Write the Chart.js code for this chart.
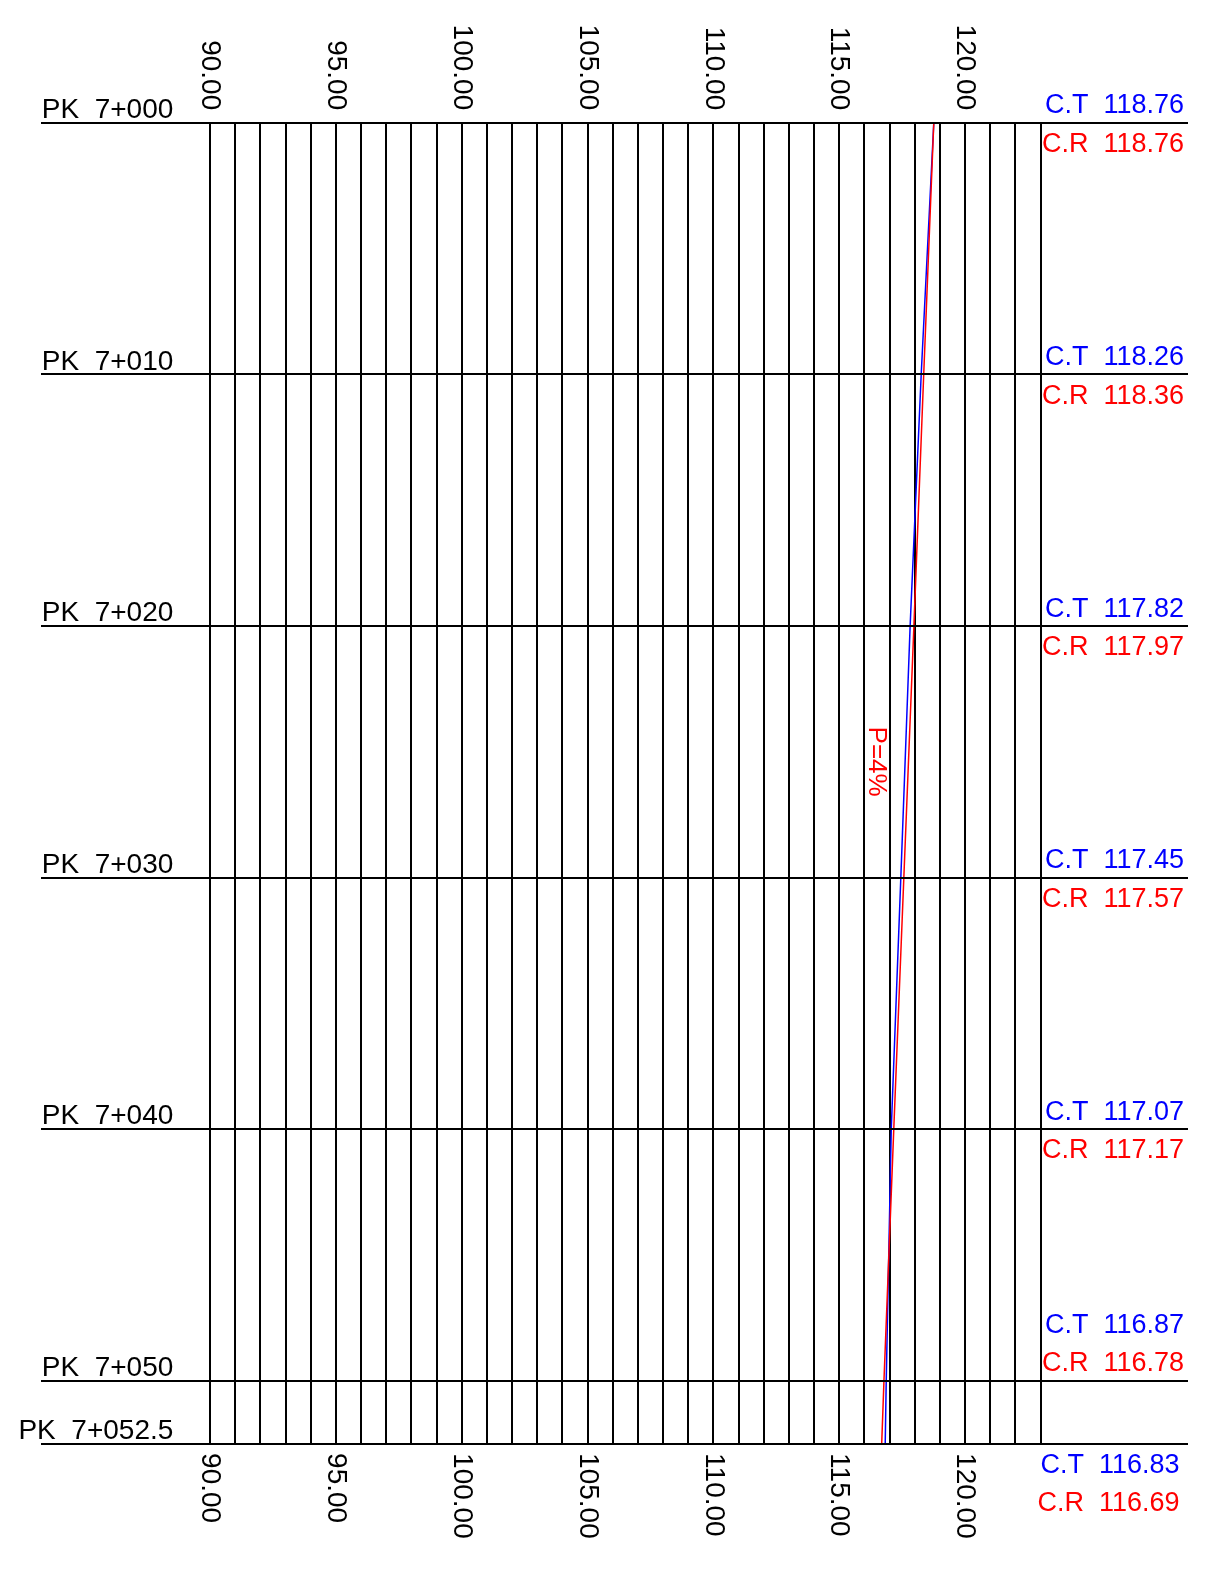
<!DOCTYPE html>
<html><head><meta charset="utf-8">
<script src="https://cdn.jsdelivr.net/npm/chart.js@4/dist/chart.umd.min.js"></script>
<style>html,body{margin:0;padding:0;background:#fff;overflow:hidden}canvas{display:block}</style>
</head><body>
<canvas id="c" width="1209" height="1576"></canvas>
<script>
// ---- data ----
const stations = [0, 10, 20, 30, 40, 50, 52.5];
const stationLabels = ['PK  7+000', 'PK  7+010', 'PK  7+020', 'PK  7+030', 'PK  7+040', 'PK  7+050', 'PK  7+052.5'];
const terrainCT = [118.76, 118.26, 117.82, 117.45, 117.07, 116.87, 116.83];
const projectCR = [118.76, 118.36, 117.97, 117.57, 117.17, 116.78, 116.69];
const elevationTicks = [90, 95, 100, 105, 110, 115, 120];
const elevationTickLabels = ['90.00', '95.00', '100.00', '105.00', '110.00', '115.00', '120.00'];
const elevMin = 90, elevMax = 123, stationMax = 52.5;
const slopeText = 'P=4%';
const slopeAnchor = {x: 116.2, y: 24};

const BLUE = '#0000ff', RED = '#ff0000', INK = '#000000';
const FONT = '"Liberation Sans", Arial, sans-serif';

const profilePlugin = {
  id: 'profile',
  afterDraw(chart) {
    const ctx = chart.ctx, xs = chart.scales.x, ys = chart.scales.y, a = chart.chartArea;
    ctx.save();
    // horizontal station lines extended beyond plot
    ctx.strokeStyle = INK; ctx.lineWidth = 2;
    stations.forEach(s => {
      const y = Math.round(ys.getPixelForValue(s));
      ctx.beginPath(); ctx.moveTo(a.left - 169, y); ctx.lineTo(a.right + 147.5, y); ctx.stroke();
    });
    // station labels
    ctx.fillStyle = INK; ctx.font = '28px ' + FONT; ctx.textAlign = 'right'; ctx.textBaseline = 'alphabetic';
    stations.forEach((s, i) => {
      const y = ys.getPixelForValue(s);
      ctx.fillText(stationLabels[i], a.left - 36.7, y - 4.8);
    });
    // elevation tick labels top and bottom (rotated)
    ctx.font = '28px ' + FONT; ctx.textBaseline = 'middle';
    elevationTicks.forEach((v, i) => {
      const x = xs.getPixelForValue(v);
      ctx.save(); ctx.translate(x, a.top - 12.5); ctx.rotate(Math.PI / 2);
      ctx.textAlign = 'right'; ctx.fillText(elevationTickLabels[i], 0, 0); ctx.restore();
      ctx.save(); ctx.translate(x, a.bottom + 9.5); ctx.rotate(Math.PI / 2);
      ctx.textAlign = 'left'; ctx.fillText(elevationTickLabels[i], 0, 0); ctx.restore();
    });
    // C.T / C.R values at right
    ctx.font = '27px ' + FONT; ctx.textAlign = 'right'; ctx.textBaseline = 'alphabetic';
    stations.forEach((s, i) => {
      const y = ys.getPixelForValue(s);
      let ctY = y - 9.4, crY = y + 29.2, rx = a.right + 143.5;
      if (i === stations.length - 2) { ctY = y - 47.8; crY = y - 10.2; }
      if (i === stations.length - 1) { ctY = y + 29.7; crY = y + 67.4; rx = a.right + 139; }
      ctx.fillStyle = BLUE; ctx.fillText('C.T  ' + terrainCT[i].toFixed(2), rx, ctY);
      ctx.fillStyle = RED; ctx.fillText('C.R  ' + projectCR[i].toFixed(2), rx, crY);
    });
    // slope label
    ctx.fillStyle = RED; ctx.font = '26px ' + FONT;
    ctx.save();
    ctx.translate(xs.getPixelForValue(slopeAnchor.x), ys.getPixelForValue(slopeAnchor.y));
    ctx.rotate(Math.PI / 2); ctx.textAlign = 'left'; ctx.textBaseline = 'alphabetic';
    ctx.fillText(slopeText, 0, 0);
    ctx.restore();
    ctx.restore();
  }
};

new Chart(document.getElementById('c'), {
  type: 'scatter',
  data: {
    datasets: [
      { label: 'C.R', data: stations.map((s, i) => ({x: projectCR[i], y: s})), showLine: true,
        borderColor: RED, borderWidth: 1.5, pointRadius: 0, fill: false, tension: 0 },
      { label: 'C.T', data: stations.map((s, i) => ({x: terrainCT[i], y: s})), showLine: true,
        borderColor: BLUE, borderWidth: 1.5, pointRadius: 0, fill: false, tension: 0 }
    ]
  },
  options: {
    responsive: false, animation: false, devicePixelRatio: 1,
    layout: { padding: { left: 210, right: 168.5, top: 122.7, bottom: 132.4 } },
    plugins: { legend: { display: false }, tooltip: { enabled: false }, title: { display: false } },
    events: [],
    scales: {
      x: {
        type: 'linear', position: 'bottom', min: elevMin, max: elevMax,
        ticks: { display: false, stepSize: 1 },
        grid: { color: INK, lineWidth: 2, drawTicks: false },
        border: { display: false }
      },
      y: {
        type: 'linear', position: 'left', reverse: true, min: 0, max: stationMax,
        afterBuildTicks: sc => { sc.ticks = stations.map(v => ({value: v})); },
        ticks: { display: false },
        grid: { color: INK, lineWidth: 2, drawTicks: false },
        border: { display: false }
      }
    }
  },
  plugins: [profilePlugin]
});
</script>
</body></html>
